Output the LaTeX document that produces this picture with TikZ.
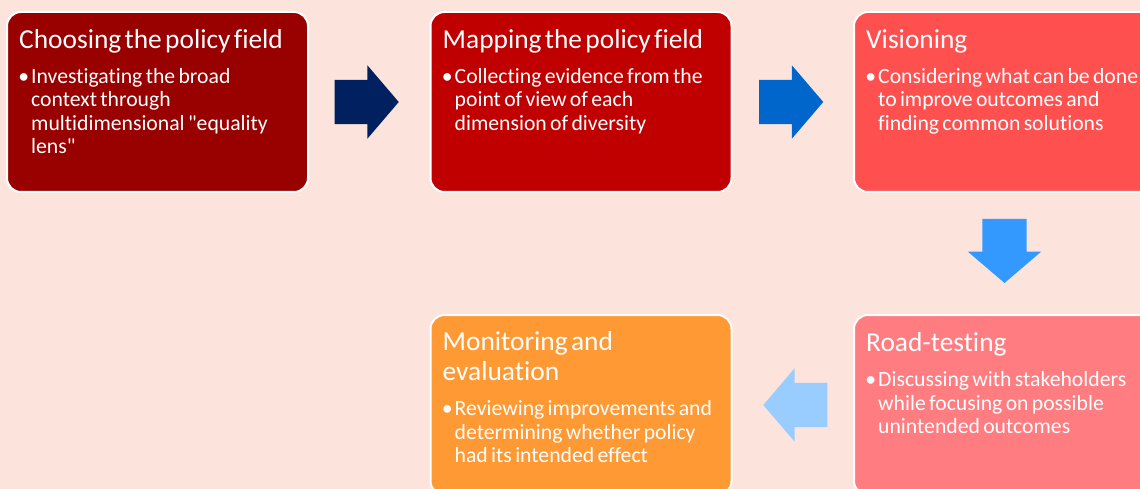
\documentclass[tikz,border=0pt]{standalone}
\usepackage{fontspec}
\setmainfont{Carlito}[Ligatures={TeXOff, CommonOff}]
\usepackage{tikz}
\usetikzlibrary{calc, shapes.arrows}

\definecolor{paper}{HTML}{FCE4DC}
\definecolor{stageA}{HTML}{990000}
\definecolor{stageB}{HTML}{C00000}
\definecolor{stageC}{HTML}{FF5050}
\definecolor{stageD}{HTML}{FF7C80}
\definecolor{stageE}{HTML}{FF9933}
\definecolor{arrowA}{HTML}{002060}
\definecolor{arrowB}{HTML}{0066CC}
\definecolor{arrowC}{HTML}{3399FF}
\definecolor{arrowD}{HTML}{99CCFF}

% heading plus one bullet point
\newcommand{\stage}[2]{%
  {\fontsize{27.4}{30}\selectfont #1\par}\vspace{11.5pt}%
  {\fontsize{21.7}{23.5}\selectfont\leftskip=12pt\noindent\llap{\textbullet\hspace{2pt}}#2\par}}

\begin{document}
\begin{tikzpicture}[x = 1pt, y = -1pt,
	stagebox/.style = {draw = white, line width = 2pt, rounded corners = 14pt, minimum width = 301pt, minimum height = 180pt, inner sep = 0pt},
	stagetext/.style = {anchor = base west, inner sep = 0pt, text width = 300pt, align = left, text = white},
	blockarrow/.style = {single arrow, minimum height = 64pt, inner sep = 22pt, single arrow head extend = 14.5pt, single arrow tip angle = 99}]
				\clip (0,0) rectangle (1140,489);
				\fill[paper] (0,0) rectangle (1140,489);
				
				\node (A) at (157.5,102)[stagebox, fill = stageA]{};
				\node (B) at (581,102)[stagebox, fill = stageB]{};
				\node (C) at (1004.5,102)[stagebox, fill = stageC]{};
				\node (D) at (1004.5,405)[stagebox, fill = stageD]{};
				\node (E) at (581,405)[stagebox, fill = stageE]{};
				
				\node (At) at ($(A.north west)+(13,37.5)$)[stagetext]{\stage{Choosing the policy field}{Investigating the broad\\ context through\\ multidimensional "equality\\ lens"}};
				\node (Bt) at ($(B.north west)+(13,37.5)$)[stagetext]{\stage{Mapping the policy field}{Collecting evidence from the\\ point of view of each\\ dimension of diversity}};
				\node (Ct) at ($(C.north west)+(13,37.5)$)[stagetext]{\stage{Visioning}{Considering what can be done\\ to improve outcomes and\\ finding common solutions}};
				\node (Dt) at ($(D.north west)+(13,37.5)$)[stagetext]{\stage{Road-testing}{Discussing with stakeholders\\ while focusing on possible\\ unintended outcomes}};
				\node (Et) at ($(E.north west)+(13,36.5)$)[stagetext]{\stage{Monitoring and\\ evaluation}{Reviewing improvements and\\ determining whether policy\\ had its intended effect}};
				
				% block arrows between the stages
				\node (AB) at ($(A.east)!0.5!(B.west)$)[blockarrow, fill = arrowA, xshift = -12pt]{};
				\node (BC) at ($(B.east)!0.5!(C.west)$)[blockarrow, fill = arrowB, xshift = -11pt]{};
				\node (CD) at ($(C.south)!0.5!(D.north)$)[blockarrow, fill = arrowC, shape border rotate = 270, yshift = 12pt]{};
				\node (DE) at ($(D.west)!0.5!(E.east)$)[blockarrow, fill = arrowD, shape border rotate = 180, xshift = 12pt]{};
			\end{tikzpicture}
\end{document}
